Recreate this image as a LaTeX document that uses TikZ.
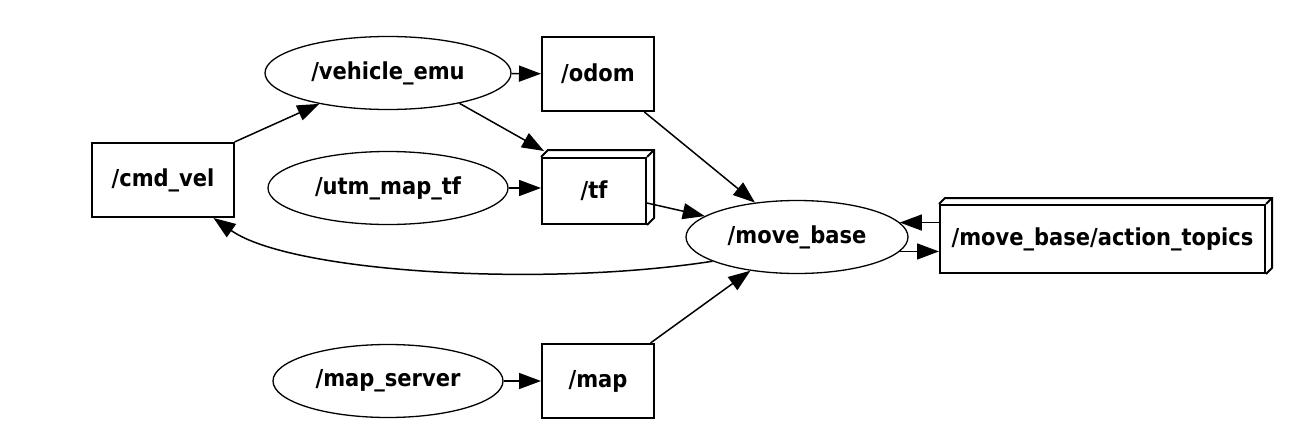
\documentclass[tikz,border=0pt]{standalone}
\usepackage{fontspec}
\setmainfont{DejaVu Sans Condensed}
\usetikzlibrary{shapes.geometric,arrows.meta}

% back faces of a box3d topic: node name, depth in px
\newcommand{\boxdepth}[2]{%
	\draw[topic line] (#1.north west) -- ++(#2,-#2) -- ([shift={(#2,-#2)}]#1.north east)
		-- ([shift={(#2,-#2)}]#1.south east) -- (#1.south east);
	\draw[topic line] (#1.north east) -- ++(#2,-#2);}

\begin{document}
\begin{tikzpicture}[x=0.2mm, y=-0.2mm,
	every node/.style={font=\fontsize{13.3}{15}\selectfont\bfseries},
	rosnode/.style={ellipse, draw, line width=0.26mm, inner sep=0pt, minimum height=14.6mm},
	topic/.style={rectangle, draw, line width=0.4mm, inner sep=0pt, minimum height=14.8mm},
	topic line/.style={line width=0.4mm, line join=miter},
	link/.style={line width=0.3mm, -{Triangle[length=4.4mm,width=3.2mm]}}]
	\useasboundingbox (0,0) rectangle (1312,448);
	% Nodes
	\node[rosnode, minimum width=49.2mm] (vehicle_emu) at (388,73) {/vehicle\_emu};
	\node[rosnode, minimum width=48mm] (utm_map_tf) at (388,188) {/utm\_map\_tf};
	\node[rosnode, minimum width=46mm] (map_server) at (388,381) {/map\_server};
	\node[rosnode, minimum width=44.4mm] (move_base) at (797,237) {/move\_base};
	% Topics
	\node[topic, minimum width=28.2mm] (cmd_vel) at (163,180) {/cmd\_vel};
	\node[topic, minimum width=22.4mm] (odom) at (598,74) {/odom};
	\node[topic, minimum width=20.8mm, minimum height=13.2mm] (tf) at (594,191) {/tf};
	\node[topic, minimum width=22.4mm] (map) at (598,381) {/map};
	\node[topic, minimum width=65mm, minimum height=13.6mm] (action_topics) at (1102.5,239) {/move\_base/action\_topics};
	\boxdepth{tf}{7}
	\boxdepth{action_topics}{6}
	% Links
	\draw[link] (cmd_vel.north east) -- (vehicle_emu);
	\draw[link] (vehicle_emu) -- (odom);
	\draw[link] (vehicle_emu.-23) -- ([shift={(3,-6)}]tf.north west);
	\draw[link] (utm_map_tf.east) -- (utm_map_tf.east -| tf.west);
	\draw[link] (map_server) -- (map);
	\draw[link] (odom) -- (move_base);
	\draw[link] (tf) -- (move_base);
	\draw[link] (map) -- (move_base);
	\draw[link] (move_base.196) .. controls (540,288) and (290,272) .. ([xshift=-4.2mm]cmd_vel.south east);
	\draw[link] (move_base.8 -| action_topics.west) -- (move_base.8);
	\draw[link] (move_base.-8) -- (move_base.-8 -| action_topics.west);
\end{tikzpicture}
\end{document}
